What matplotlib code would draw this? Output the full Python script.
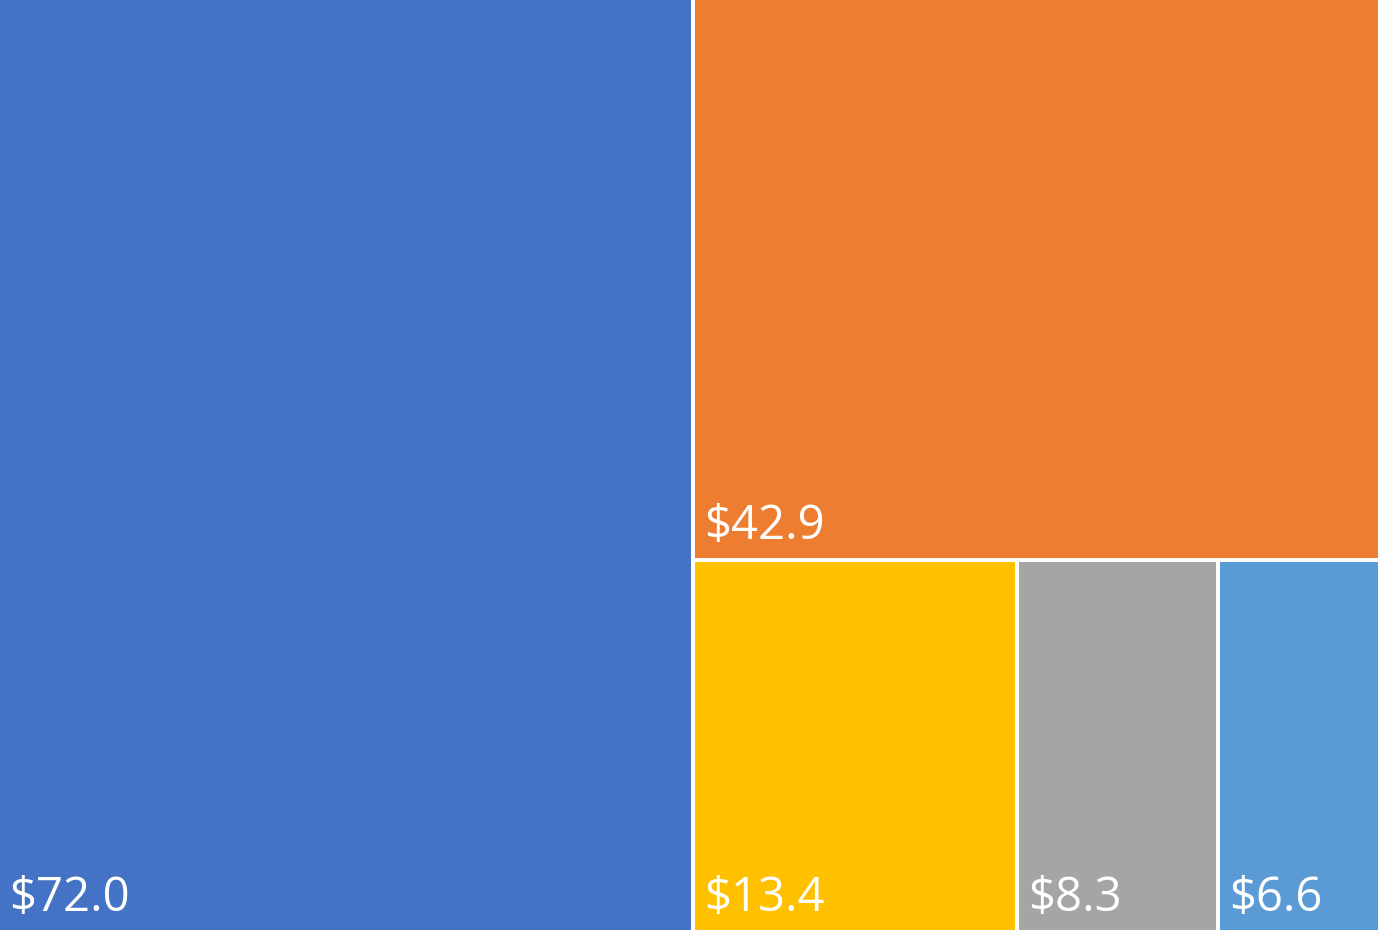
import matplotlib
matplotlib.use("Agg")
import matplotlib.pyplot as plt
from matplotlib.patches import Rectangle

labels = ["$72.0", "$42.9", "$13.4", "$8.3", "$6.6"]
values = [72.0, 42.9, 13.4, 8.3, 6.6]
colors = ["#4472C4", "#ED7D31", "#FFC000", "#A5A5A5", "#5B9BD5"]

W, H = 1378.0, 930.0
GAP = 4.0

def layout(vals, x, y, w, h):
    """Excel-like layout: first item a vertical slice, next a horizontal slice,
    remaining items laid side by side in a row."""
    rects = []
    total = sum(vals)
    # first item: left column
    w0 = w * vals[0] / total
    rects.append((x, y, w0, h))
    rx, rw = x + w0, w - w0
    rest = vals[1:]
    rtot = sum(rest)
    # second item: top band
    h1 = h * rest[0] / rtot
    rects.append((rx, y + h - h1, rw, h1))
    # remaining: row at bottom
    bh = h - h1
    row = rest[1:]
    rowtot = sum(row)
    cx = rx
    for v in row:
        cw = rw * v / rowtot
        rects.append((cx, y, cw, bh))
        cx += cw
    return rects

rects = layout(values, 0, 0, W, H)

fig = plt.figure(figsize=(13.78, 9.30), dpi=100)
ax = fig.add_axes([0, 0, 1, 1])
ax.set_xlim(0, W)
ax.set_ylim(0, H)
ax.axis("off")

for (x, y, w, h), lab, c in zip(rects, labels, colors):
    x0 = x + (GAP / 2 if x > 0.5 else 0)
    x1 = x + w - (GAP / 2 if x + w < W - 0.5 else 0)
    y0 = y + (GAP / 2 if y > 0.5 else 0)
    y1 = y + h - (GAP / 2 if y + h < H - 0.5 else 0)
    ax.add_patch(Rectangle((x0, y0), x1 - x0, y1 - y0, facecolor=c, edgecolor="none"))
    ax.text(x0 + 9, y0 + 19, lab, color="white", fontsize=34,
            family="Open Sans", ha="left", va="baseline")

fig.savefig("out.png", dpi=100)
